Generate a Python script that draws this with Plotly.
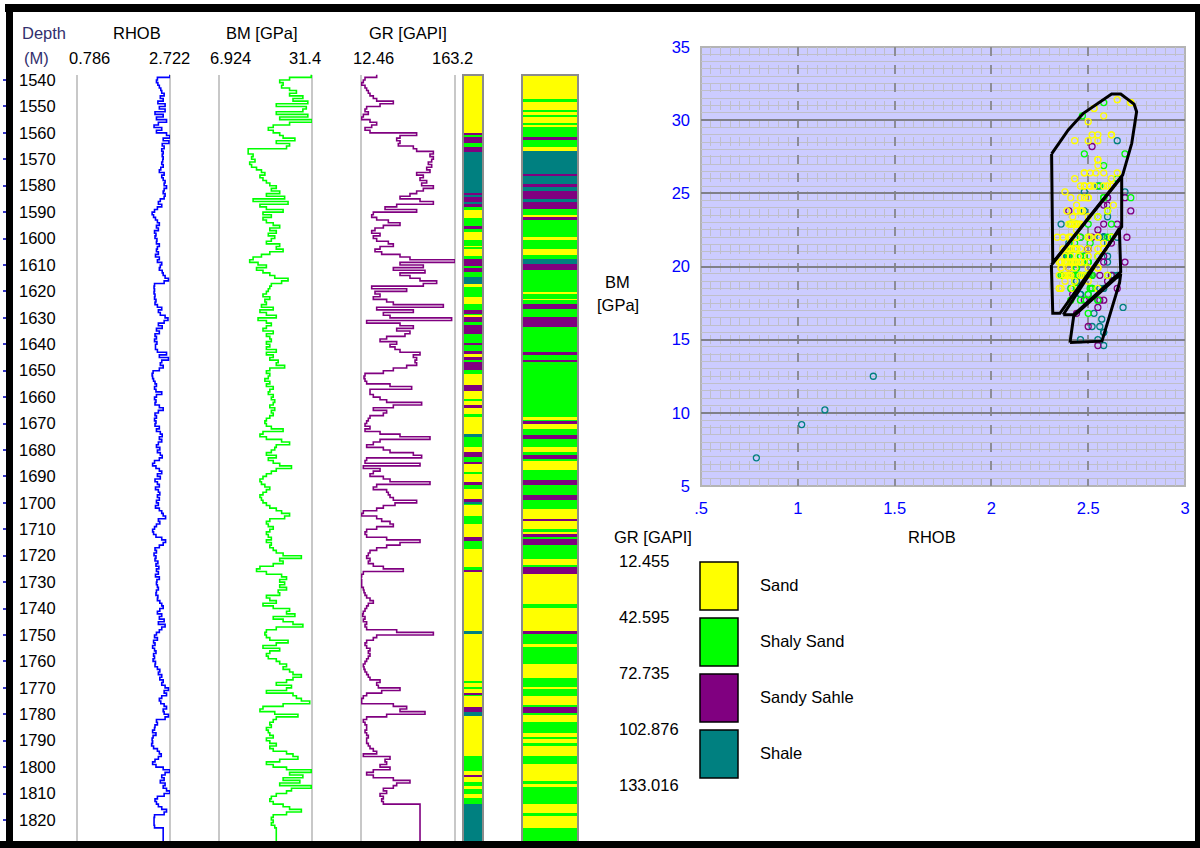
import plotly.graph_objects as go

W, H = 1200, 848
FONT = "Liberation Sans, Arial, sans-serif"
FS = 16.5

# ---------------- log data (1 m samples) ----------------
DEPTH = list(range(1538, 1833))

RHOB = [
    2.72, 2.46,
    2.44, 2.47, 2.50, 2.53, 2.55, 2.60, 2.52, 2.58, 2.47, 2.62,
    2.50, 2.62, 2.41, 2.58, 2.44, 2.65, 2.48, 2.39, 2.55, 2.44,
    2.65, 2.72, 2.58, 2.70, 2.56, 2.60, 2.55, 2.58, 2.56, 2.58,
    2.57, 2.55, 2.58, 2.53, 2.50, 2.60, 2.55, 2.58, 2.62, 2.60,
    2.65, 2.60, 2.58, 2.62, 2.60, 2.52, 2.48, 2.55, 2.46, 2.40,
    2.35, 2.38, 2.42, 2.46, 2.50, 2.44, 2.48, 2.40, 2.43, 2.41,
    2.45, 2.44, 2.50, 2.46, 2.44, 2.48, 2.42, 2.50, 2.46, 2.55,
    2.52, 2.50, 2.56, 2.58, 2.62, 2.69, 2.60, 2.40, 2.39, 2.40,
    2.39, 2.41, 2.40, 2.43, 2.41, 2.46, 2.55, 2.48, 2.52, 2.62,
    2.68, 2.60, 2.48, 2.56, 2.44, 2.50, 2.41, 2.44, 2.40, 2.45,
    2.42, 2.42, 2.46, 2.65, 2.50, 2.69, 2.55, 2.52, 2.58, 2.50,
    2.37, 2.35, 2.36, 2.38, 2.41, 2.44, 2.40, 2.43, 2.55, 2.44,
    2.40, 2.43, 2.41, 2.50, 2.58, 2.48, 2.41, 2.44, 2.40, 2.43,
    2.41, 2.50, 2.44, 2.52, 2.56, 2.50, 2.55, 2.48, 2.44, 2.51,
    2.46, 2.52, 2.56, 2.50, 2.40, 2.36, 2.43, 2.50, 2.55, 2.46,
    2.52, 2.41, 2.46, 2.50, 2.42, 2.48, 2.51, 2.46, 2.50, 2.44,
    2.48, 2.42, 2.50, 2.55, 2.58, 2.63, 2.48, 2.51, 2.44, 2.40,
    2.36, 2.38, 2.43, 2.55, 2.63, 2.58, 2.50, 2.41, 2.44, 2.39,
    2.43, 2.41, 2.47, 2.43, 2.49, 2.44, 2.48, 2.42, 2.50, 2.45,
    2.44, 2.46, 2.48, 2.44, 2.43, 2.47, 2.46, 2.51, 2.55, 2.58,
    2.51, 2.46, 2.55, 2.50, 2.60, 2.48, 2.62, 2.55, 2.50, 2.44,
    2.40, 2.46, 2.38, 2.41, 2.36, 2.40, 2.43, 2.38, 2.40, 2.37,
    2.42, 2.41, 2.46, 2.51, 2.48, 2.55, 2.51, 2.58, 2.55, 2.62,
    2.69, 2.60, 2.65, 2.55, 2.50, 2.53, 2.60, 2.65, 2.58, 2.60,
    2.69, 2.62, 2.44, 2.46, 2.41, 2.40, 2.36, 2.43, 2.37, 2.35,
    2.36, 2.34, 2.38, 2.46, 2.50, 2.54, 2.48, 2.41, 2.36, 2.43,
    2.58, 2.72, 2.62, 2.55, 2.60, 2.52, 2.62, 2.58, 2.65, 2.72,
    2.60, 2.46, 2.41, 2.44, 2.48, 2.55, 2.65, 2.60, 2.40, 2.39,
    2.39, 2.39, 2.40, 2.58, 2.58, 2.58, 2.58, 2.58, 2.58, 1.39,
    1.14, 1.02, 0.786,
]

BM = [
    31.2, 25.5,
    22.9, 23.8, 23.4, 25.5, 27.3, 25.5, 29.0, 26.4, 30.3, 22.0,
    29.9, 29.0, 22.0, 30.3, 22.9, 31.4, 25.5, 21.2, 19.9, 21.2,
    22.9, 23.8, 26.9, 22.0, 25.5, 24.7, 14.6, 14.6, 15.9, 15.5,
    16.4, 15.0, 15.5, 16.8, 18.1, 19.0, 17.7, 18.5, 19.4, 20.3,
    22.0, 20.7, 22.9, 19.4, 24.2, 15.9, 25.1, 17.7, 19.4, 23.8,
    18.5, 20.7, 18.5, 19.4, 21.2, 22.9, 20.3, 22.0, 19.9, 21.6,
    20.7, 19.4, 22.9, 22.0, 23.8, 20.3, 18.1, 15.9, 15.0, 17.2,
    19.4, 16.8, 18.5, 20.3, 21.6, 25.1, 23.4, 20.7, 20.3, 19.9,
    19.4, 18.5, 20.3, 19.0, 19.4, 18.1, 21.2, 17.7, 19.4, 22.0,
    17.2, 19.4, 20.7, 19.4, 18.5, 21.2, 19.4, 20.3, 20.7, 19.4,
    20.3, 19.4, 22.0, 19.4, 21.2, 20.3, 22.5, 22.0, 24.2, 20.3,
    19.4, 20.3, 19.9, 19.0, 20.3, 19.4, 21.2, 20.3, 19.9, 21.2,
    20.7, 21.6, 21.2, 20.3, 21.6, 20.7, 21.2, 20.3, 19.4, 19.0,
    19.4, 20.7, 23.8, 18.5, 17.7, 19.4, 23.4, 25.5, 22.0, 21.6,
    20.7, 19.4, 22.0, 19.9, 21.2, 22.9, 26.0, 22.0, 20.7, 19.4,
    18.5, 17.7, 18.1, 19.0, 20.3, 19.4, 18.5, 17.7, 18.1, 18.5,
    19.4, 20.3, 22.0, 23.4, 25.5, 24.2, 20.3, 19.4, 19.9, 21.2,
    20.3, 19.4, 19.9, 20.7, 19.4, 20.7, 20.3, 21.2, 22.0, 23.8,
    28.6, 22.9, 23.8, 21.2, 17.7, 16.8, 19.4, 23.4, 24.7, 22.9,
    24.2, 22.9, 24.7, 22.5, 22.9, 19.4, 20.3, 22.0, 18.5, 21.2,
    25.5, 24.7, 26.9, 21.2, 23.8, 26.4, 29.0, 22.0, 19.4, 19.0,
    19.4, 20.3, 25.1, 22.0, 18.5, 22.9, 20.3, 19.4, 19.9, 22.0,
    22.9, 24.7, 23.8, 25.5, 26.4, 28.6, 26.4, 24.7, 22.0, 26.0,
    24.7, 19.4, 26.4, 27.3, 28.6, 30.8, 23.8, 18.5, 17.7, 21.6,
    27.7, 22.0, 21.2, 20.3, 20.7, 19.4, 19.9, 20.3, 21.2, 19.4,
    20.3, 22.0, 20.3, 21.2, 24.7, 26.4, 27.7, 22.9, 19.4, 21.2,
    24.7, 31.2, 25.5, 29.0, 23.8, 28.2, 22.9, 31.2, 26.0, 24.7,
    22.0, 20.7, 20.3, 21.2, 23.8, 25.5, 28.6, 24.7, 21.2, 20.7,
    21.2, 20.7, 21.6, 22.0, 22.0, 22.0, 22.0, 22.0, 22.0, 12.5,
    10.2, 9.2, 6.924,
]

GR = [
    37.6, 18.9,
    16.2, 13.5, 18.9, 21.5, 24.2, 26.9, 32.2, 37.6, 64.3, 43.0,
    21.5, 18.9, 24.2, 16.2, 13.5, 26.9, 37.6, 29.6, 18.9, 26.9,
    101.7, 75.0, 69.7, 75.0, 72.3, 96.4, 101.7, 128.5, 123.1, 128.5,
    125.8, 120.4, 125.8, 117.8, 123.1, 101.7, 112.4, 107.1, 117.8, 109.7,
    128.5, 112.4, 101.7, 91.0, 75.0, 107.1, 128.5, 69.7, 51.0, 101.7,
    32.2, 29.6, 37.6, 56.3, 75.0, 48.3, 34.9, 29.6, 43.0, 32.2,
    37.6, 56.3, 64.3, 43.0, 34.9, 45.6, 75.0, 91.0, 163.2, 75.0,
    112.4, 64.3, 115.1, 75.0, 91.0, 107.1, 133.8, 112.4, 29.6, 85.7,
    34.9, 43.0, 32.2, 53.6, 64.3, 144.5, 37.6, 96.4, 48.3, 59.0,
    157.8, 21.5, 75.0, 96.4, 69.7, 91.0, 83.0, 53.6, 43.0, 69.7,
    59.0, 67.0, 75.0, 107.1, 96.4, 101.7, 99.1, 101.7, 85.7, 64.3,
    48.3, 18.9, 17.3, 18.9, 21.5, 59.0, 93.7, 26.9, 26.9, 32.2,
    43.0, 53.6, 109.7, 64.3, 32.2, 53.6, 48.3, 26.9, 24.2, 21.5,
    18.9, 26.9, 18.9, 43.0, 75.0, 123.1, 43.0, 32.2, 21.5, 48.3,
    59.0, 96.4, 109.7, 21.5, 18.9, 107.1, 16.2, 43.0, 32.2, 26.9,
    48.3, 59.0, 123.1, 37.6, 32.2, 53.6, 56.3, 59.0, 64.3, 101.7,
    67.0, 48.3, 37.6, 16.2, 13.5, 37.6, 45.6, 59.0, 64.3, 37.6,
    21.5, 18.9, 21.5, 53.6, 107.1, 75.0, 53.6, 37.6, 26.9, 24.2,
    21.5, 26.9, 24.2, 32.2, 48.3, 80.3, 16.2, 13.5, 12.46, 13.5,
    13.5, 13.5, 16.2, 17.3, 18.9, 21.5, 26.9, 32.2, 24.2, 21.5,
    18.9, 16.2, 15.1, 18.9, 16.2, 21.5, 18.9, 21.5, 69.7, 128.5,
    37.6, 32.2, 21.5, 18.9, 21.5, 26.9, 24.2, 26.9, 24.2, 21.5,
    18.9, 16.2, 17.3, 18.9, 21.5, 24.2, 26.9, 43.0, 37.6, 40.3,
    75.0, 45.6, 21.5, 16.2, 13.5, 13.5, 64.3, 85.7, 75.0, 115.1,
    53.6, 21.5, 16.2, 18.9, 21.5, 21.5, 18.9, 21.5, 24.2, 21.5,
    21.5, 24.2, 26.9, 32.2, 37.6, 16.2, 59.0, 51.0, 53.6, 43.0,
    59.0, 32.2, 21.5, 32.2, 64.3, 91.0, 69.7, 64.3, 48.3, 53.6,
    43.0, 48.3, 45.6, 48.3, 107.1, 107.1, 107.1, 107.1, 107.1, 107.1,
    107.1, 107.1, 107.1, 107.1, 107.1, 107.1, 107.1, 107.1, 107.1, 107.1,
    107.1, 107.1, 107.1,
]

assert len(RHOB) == len(DEPTH) and len(BM) == len(DEPTH) and len(GR) == len(DEPTH)

# track scales (header values)
RHOB_SCALE = [0.786, 2.722]
BM_SCALE = [6.924, 31.4]
GR_SCALE = [12.46, 163.2]
DEPTH_VIEW = [1535.46, 1830.6]

# ---------------- facies ----------------
FACIES_NAMES = ["Sand", "Shaly Sand", "Sandy Sahle", "Shale"]
FACIES_COLORS = ["#ffff00", "#00ff00", "#800080", "#008080"]
GR_CUTS = [12.455, 42.595, 72.735, 102.876, 133.016]

# column 1 (interval tops, facies index)
COL1_TOP = [1538.1, 1560.2, 1560.8, 1561.7, 1564.0, 1565.5, 1567.4, 1582.7, 1583.6, 1584.2,
            1586.1, 1587.0, 1588.0, 1589.0, 1592.4, 1595.2, 1596.2, 1597.5, 1600.6, 1602.9,
            1603.5, 1604.1, 1606.7, 1607.6, 1610.5, 1611.3, 1612.6, 1614.5, 1617.0, 1618.3,
            1622.1, 1624.6, 1627.1, 1628.4, 1629.0, 1629.6, 1631.5, 1632.8, 1636.0, 1639.8,
            1640.4, 1642.9, 1643.5, 1644.8, 1645.8, 1646.7, 1649.9, 1651.1, 1655.5, 1657.5,
            1660.6, 1661.5, 1663.1, 1664.0, 1666.3, 1667.5, 1673.8, 1675.0, 1678.9, 1680.8,
            1682.7, 1684.6, 1685.2, 1688.4, 1689.0, 1692.2, 1693.4, 1694.7, 1698.5, 1699.5,
            1700.4, 1701.0, 1704.8, 1708.0, 1713.0, 1714.3, 1717.4, 1724.4, 1725.4, 1726.3,
            1748.3, 1749.6, 1767.3, 1768.3, 1769.8, 1770.5, 1772.1, 1772.7, 1773.0, 1777.4,
            1779.3, 1780.6, 1795.7, 1801.4, 1803.3, 1803.9, 1805.8, 1807.1, 1808.3, 1810.2,
            1811.5, 1813.8]
COL1_FAC = [0, 2, 1, 2, 1, 2, 3, 2, 3, 2,
            3, 2, 1, 0, 1, 2, 1, 0, 1, 0,
            1, 0, 1, 2, 1, 2, 1, 3, 0, 1,
            0, 1, 2, 1, 0, 2, 1, 2, 1, 2,
            1, 2, 0, 2, 1, 2, 1, 0, 2, 0,
            1, 0, 2, 0, 1, 0, 3, 1, 0, 2,
            1, 2, 0, 1, 0, 2, 1, 0, 2, 3,
            1, 0, 1, 0, 2, 1, 0, 1, 2, 0,
            3, 0, 1, 0, 1, 0, 2, 1, 0, 2,
            3, 0, 1, 0, 2, 0, 1, 0, 1, 0,
            1, 3]

# column 2 (interval tops, facies index)
COL2_TOP = [1538.1, 1547.3, 1548.2, 1551.4, 1552.0, 1553.6, 1554.1, 1556.2, 1557.0, 1557.7,
            1561.5, 1562.7, 1565.5, 1566.8, 1575.4, 1576.4, 1579.2, 1580.5, 1582.0, 1584.9,
            1586.1, 1588.7, 1591.2, 1591.8, 1593.1, 1599.4, 1600.4, 1604.1, 1606.3, 1607.6,
            1609.7, 1612.0, 1620.2, 1620.8, 1622.7, 1623.4, 1624.6, 1626.5, 1629.6, 1633.4,
            1642.9, 1643.9, 1646.0, 1646.7, 1667.5, 1668.7, 1669.4, 1670.0, 1671.9, 1674.5,
            1675.7, 1678.9, 1680.8, 1682.0, 1683.3, 1684.0, 1687.7, 1691.5, 1693.4, 1697.2,
            1699.1, 1702.2, 1706.0, 1707.0, 1709.8, 1711.1, 1711.7, 1713.0, 1713.6, 1716.1,
            1721.2, 1723.7, 1724.4, 1726.9, 1738.2, 1739.8, 1748.3, 1749.6, 1753.4, 1754.7,
            1761.0, 1766.3, 1769.6, 1770.5, 1773.0, 1776.8, 1777.4, 1779.7, 1780.2, 1783.1,
            1786.9, 1788.8, 1789.4, 1790.7, 1791.9, 1795.7, 1798.9, 1805.2, 1806.5, 1807.7,
            1814.0, 1817.2, 1818.4, 1822.9]
COL2_FAC = [0, 1, 0, 1, 0, 1, 0, 1, 0, 1,
            2, 1, 0, 3, 2, 3, 2, 3, 2, 3,
            2, 1, 0, 2, 1, 0, 1, 0, 1, 3,
            2, 1, 0, 1, 0, 1, 2, 1, 2, 1,
            2, 1, 2, 1, 0, 1, 2, 0, 1, 2,
            1, 0, 1, 2, 1, 0, 1, 2, 1, 2,
            1, 0, 2, 0, 1, 0, 2, 1, 2, 1,
            0, 1, 2, 0, 1, 0, 2, 1, 0, 1,
            0, 1, 0, 1, 0, 1, 2, 1, 0, 1,
            0, 1, 0, 1, 0, 1, 0, 1, 0, 1,
            0, 1, 0, 1]
COL_BASE = 1831.0

# ---------------- crossplot polygons (RHOB, BM) ----------------
POLY_SAND_X = [2.311, 2.354, 2.397, 2.475, 2.621, 2.668, 2.737, 2.750, 2.725, 2.678, 2.317, 2.311]
POLY_SAND_Y = [27.69, 28.53, 29.33, 30.47, 31.79, 31.79, 31.10, 30.58, 28.42, 26.25, 20.26, 27.69]
POLY_SHSAND_X = [2.310, 2.673, 2.673, 2.354, 2.317, 2.310]
POLY_SHSAND_Y = [20.10, 26.13, 22.72, 16.80, 16.80, 20.10]
POLY_SDSH_X = [2.371, 2.661, 2.668, 2.425, 2.371]
POLY_SDSH_Y = [16.70, 22.61, 19.64, 16.70, 16.70]
POLY_SHALE_X = [2.406, 2.425, 2.668, 2.662, 2.571, 2.406]
POLY_SHALE_Y = [14.80, 16.60, 19.50, 18.90, 14.90, 14.80]

XP_XTICKS = [0.5, 1, 1.5, 2, 2.5, 3]
XP_XTEXT = [".5", "1", "1.5", "2", "2.5", "3"]
XP_YTICKS = [5, 10, 15, 20, 25, 30, 35]


def fx(px):
    return px / W


def fy(py):
    return 1 - py / H


fig = go.Figure()

# ---------------- log curves ----------------
for vals, color, ax in [(RHOB, "#0000ff", "x"), (BM, "#00ff00", "x2"), (GR, "#800080", "x3")]:
    fig.add_trace(go.Scatter(x=vals, y=DEPTH, mode="lines",
                             line=dict(color=color, width=1.6, shape="vh"),
                             xaxis=ax, yaxis="y", hoverinfo="skip", showlegend=False))


# ---------------- facies columns ----------------
def facies_bars(tops, facs, base, ax):
    bottoms = tops[1:] + [base]
    for k, color in enumerate(FACIES_COLORS):
        idx = [i for i, f in enumerate(facs) if f == k]
        fig.add_trace(go.Bar(x=[0.5] * len(idx),
                             y=[bottoms[i] - tops[i] for i in idx],
                             base=[tops[i] for i in idx],
                             width=1, marker=dict(color=color, line=dict(width=0)),
                             xaxis=ax, yaxis="y", hoverinfo="skip", showlegend=False))


facies_bars(COL1_TOP, COL1_FAC, COL_BASE, "x4")
facies_bars(COL2_TOP, COL2_FAC, COL_BASE, "x5")


# ---------------- crossplot ----------------
def gr_class(g):
    for k in range(4):
        if g < GR_CUTS[k + 1]:
            return k
    return 3


classes = [gr_class(g) for g in GR]
for k in [3, 2, 1, 0]:
    xs = [RHOB[i] for i in range(len(DEPTH)) if classes[i] == k]
    ys = [BM[i] for i in range(len(DEPTH)) if classes[i] == k]
    fig.add_trace(go.Scatter(x=xs, y=ys, mode="markers",
                             marker=dict(symbol="circle-open", size=6, color=FACIES_COLORS[k],
                                         line=dict(width=1.3, color=FACIES_COLORS[k])),
                             xaxis="x6", yaxis="y2", hoverinfo="skip", showlegend=False))

for px_, py_ in [(POLY_SAND_X, POLY_SAND_Y), (POLY_SHSAND_X, POLY_SHSAND_Y),
                 (POLY_SDSH_X, POLY_SDSH_Y), (POLY_SHALE_X, POLY_SHALE_Y)]:
    fig.add_trace(go.Scatter(x=px_, y=py_, mode="lines",
                             line=dict(color="black", width=3),
                             xaxis="x6", yaxis="y2", hoverinfo="skip", showlegend=False))

# ---------------- axes ----------------
track_common = dict(showgrid=False, zeroline=False, showline=False, showticklabels=False,
                    ticks="", anchor="y", fixedrange=True, automargin=False)
fig.update_layout(
    xaxis=dict(domain=[fx(77), fx(170)], range=RHOB_SCALE, **track_common),
    xaxis2=dict(domain=[fx(219), fx(312)], range=BM_SCALE, **track_common),
    xaxis3=dict(domain=[fx(361), fx(455)], range=GR_SCALE, **track_common),
    xaxis4=dict(domain=[fx(463), fx(483)], range=[0, 1], **track_common),
    xaxis5=dict(domain=[fx(522), fx(578)], range=[0, 1], **track_common),
    yaxis=dict(domain=[0, fy(68)], range=[DEPTH_VIEW[1], DEPTH_VIEW[0]],
               anchor="free", position=fx(13), side="left", automargin=False,
               showgrid=False, zeroline=False, showline=False,
               tickmode="linear", tick0=1540, dtick=10,
               ticks="outside", ticklen=10, tickwidth=2, tickcolor="#3a3ac8",
               ticklabelposition="inside", ticklabelstandoff=2,
               tickfont=dict(family=FONT, size=FS, color="black")),
    xaxis6=dict(domain=[fx(701), fx(1185)], range=[0.5, 3], anchor="y2", automargin=False,
                tickmode="array", tickvals=XP_XTICKS, ticktext=XP_XTEXT,
                tickfont=dict(family=FONT, size=FS, color="#0000ff"), ticks="",
                ticklabelstandoff=10,
                showgrid=True, gridcolor="#8c8c96", gridwidth=1.5, griddash="dash",
                zeroline=False, showline=False,
                minor=dict(tick0=0.5, dtick=0.05, showgrid=True, gridcolor="#bfbfc9", gridwidth=1)),
    yaxis2=dict(domain=[fy(486), fy(47)], range=[5, 35], anchor="x6", automargin=False,
                tickmode="array", tickvals=XP_YTICKS,
                tickfont=dict(family=FONT, size=FS, color="#0000ff"), ticks="",
                ticklabelstandoff=10,
                showgrid=True, gridcolor="#808088", gridwidth=1.5,
                zeroline=False, showline=False,
                minor=dict(tick0=5, dtick=0.5, showgrid=True, gridcolor="#bfbfc9", gridwidth=1)),
)

# ---------------- shapes ----------------
shapes = []
for ax in ["x", "x2", "x3"]:
    for xv in [0, 1]:
        shapes.append(dict(type="line", xref=f"{ax} domain", yref="paper",
                           x0=xv, x1=xv, y0=0, y1=fy(75),
                           line=dict(color="#c8c8c8", width=2), layer="below"))
for ax in ["x4", "x5"]:
    shapes.append(dict(type="rect", xref=f"{ax} domain", yref="paper",
                       x0=0, x1=1, y0=0, y1=fy(75),
                       line=dict(color="#8c8c8c", width=2), fillcolor="rgba(0,0,0,0)", layer="above"))
shapes.append(dict(type="rect", xref="x6 domain", yref="y2 domain", x0=0, x1=1, y0=0, y1=1,
                   fillcolor="#ccccff", line=dict(color="#b4b4b4", width=2), layer="below"))
for i, c in enumerate(FACIES_COLORS):
    top = 562 + 56 * i
    shapes.append(dict(type="rect", xref="paper", yref="paper",
                       x0=fx(700), x1=fx(738), y0=fy(top + 48), y1=fy(top),
                       fillcolor=c, line=dict(color="black", width=1.5)))
for x0, x1, y0, y1 in [(5, 1200, 4, 12), (6, 13, 4, 848), (0, 1200, 841, 848), (1195, 1200, 4, 848)]:
    shapes.append(dict(type="rect", xref="paper", yref="paper",
                       x0=fx(x0), x1=fx(x1), y0=fy(y1), y1=fy(y0),
                       fillcolor="black", line=dict(width=0), layer="above"))

# ---------------- annotations ----------------
ann = []


def text(t, x, y, anchor="center", color="black", size=FS):
    ann.append(dict(text=t, x=fx(x), y=fy(y), xref="paper", yref="paper",
                    xanchor=anchor, yanchor="middle", showarrow=False,
                    font=dict(family=FONT, size=size, color=color)))


text("Depth", 20, 33, "left", "#33306e")
text("(M)", 22, 58, "left", "#33306e")
text("RHOB", 137, 33)
text(str(RHOB_SCALE[0]), 89, 58)
text(str(RHOB_SCALE[1]), 169, 58)
text("BM [GPa]", 262, 33)
text(str(BM_SCALE[0]), 230, 58)
text(str(BM_SCALE[1]), 305, 58)
text("GR [GAPI]", 408, 33)
text(str(GR_SCALE[0]), 373, 58)
text(str(GR_SCALE[1]), 452, 58)

text("BM", 617, 282)
text("[GPa]", 618, 305)
text("RHOB", 932, 537)
text("GR [GAPI]", 612, 537, "left")
for i, v in enumerate(GR_CUTS):
    text(f"{v:.3f}", 617, 561 + 56 * i, "left")
for i, name in enumerate(FACIES_NAMES):
    text(name, 758, 585 + 56 * i, "left")

fig.update_layout(
    width=W, height=H, margin=dict(l=0, r=0, t=0, b=0, pad=0), autosize=False,
    paper_bgcolor="white", plot_bgcolor="white",
    showlegend=False, barmode="overlay", bargap=0,
    shapes=shapes, annotations=ann,
)

fig.write_html("out.html", config={"displayModeBar": False, "responsive": False},
               post_script="document.body.style.margin='0';document.body.style.overflow='hidden';")
